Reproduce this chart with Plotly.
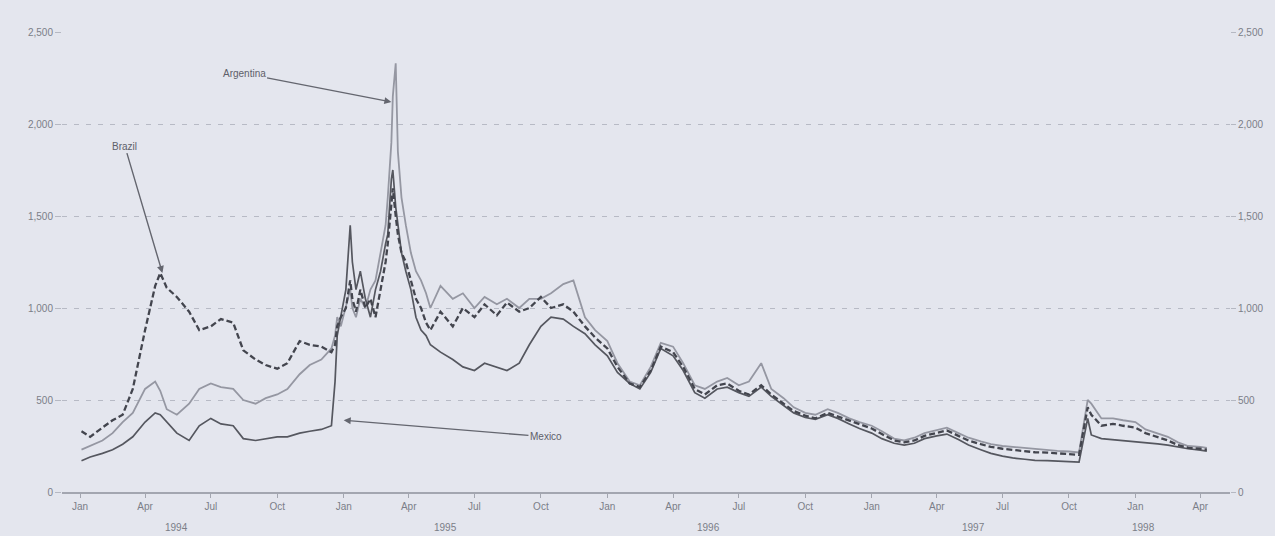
import plotly.graph_objects as go

# Observation dates (semi-monthly, weekly around the Tequila crisis)
dates = [
    "1994-01-03", "1994-01-15", "1994-02-01", "1994-02-15", "1994-03-01", "1994-03-15",
    "1994-04-01", "1994-04-15", "1994-04-22", "1994-05-01", "1994-05-15", "1994-06-01",
    "1994-06-15", "1994-07-01", "1994-07-15", "1994-08-01", "1994-08-15", "1994-09-01",
    "1994-09-15", "1994-10-01", "1994-10-15", "1994-11-01", "1994-11-15", "1994-12-01",
    "1994-12-15", "1994-12-20", "1994-12-23", "1994-12-28",
    "1995-01-04", "1995-01-10", "1995-01-13", "1995-01-18", "1995-01-24", "1995-01-31",
    "1995-02-07", "1995-02-14", "1995-02-21", "1995-02-28", "1995-03-03", "1995-03-08",
    "1995-03-10", "1995-03-14", "1995-03-17", "1995-03-22", "1995-03-28", "1995-04-04",
    "1995-04-11", "1995-04-18", "1995-04-25", "1995-05-01", "1995-05-15", "1995-06-01",
    "1995-06-15", "1995-07-01", "1995-07-15", "1995-08-01", "1995-08-15", "1995-09-01",
    "1995-09-15", "1995-10-01", "1995-10-15", "1995-11-01", "1995-11-15", "1995-12-01",
    "1995-12-15",
    "1996-01-01", "1996-01-15", "1996-02-01", "1996-02-15", "1996-03-01", "1996-03-15",
    "1996-04-01", "1996-04-15", "1996-05-01", "1996-05-15", "1996-06-01", "1996-06-15",
    "1996-07-01", "1996-07-15", "1996-08-01", "1996-08-15", "1996-09-01", "1996-09-15",
    "1996-10-01", "1996-10-15", "1996-11-01", "1996-11-15", "1996-12-01", "1996-12-15",
    "1997-01-01", "1997-01-15", "1997-02-01", "1997-02-15", "1997-03-01", "1997-03-15",
    "1997-04-01", "1997-04-15", "1997-05-01", "1997-05-15", "1997-06-01", "1997-06-15",
    "1997-07-01", "1997-07-15", "1997-08-01", "1997-08-15", "1997-09-01", "1997-09-15",
    "1997-10-01", "1997-10-15", "1997-10-27", "1997-11-01", "1997-11-15", "1997-12-01",
    "1997-12-15",
    "1998-01-01", "1998-01-15", "1998-02-01", "1998-02-15", "1998-03-01", "1998-03-15",
    "1998-04-01", "1998-04-10",
]

# Sovereign spreads, basis points
brazil = [
    330, 300, 350, 390, 420, 560,
    880, 1120, 1190, 1110, 1060, 980,
    880, 900, 940, 920, 770, 720,
    690, 670, 700, 820, 800, 790,
    760, 800, 900, 950,
    1000, 1150, 1050, 980, 1100, 1000,
    1050, 950, 1100, 1250, 1350, 1550,
    1650, 1500, 1400, 1300, 1250, 1150,
    1050, 1000, 920, 880, 980, 900,
    1000, 950, 1020, 960, 1030, 980,
    1000, 1060, 1000, 1020, 980, 900,
    840,
    780, 680, 590, 570, 660, 790,
    760, 680, 560, 530, 580, 590,
    550, 530, 580, 530, 480, 440,
    415, 400, 430, 410, 385, 365,
    345, 315, 280, 270, 280, 305,
    320, 335, 305, 280, 260, 245,
    235, 230, 222, 216, 214, 210,
    208, 202, 460, 420, 360, 370,
    360,
    350, 320, 300, 280, 255, 240,
    235, 230,
]

argentina = [
    230, 250, 280, 320, 380, 430,
    560, 600, 550, 450, 420, 480,
    560, 590, 570, 560, 500, 480,
    510, 530, 560, 640, 690, 720,
    780, 850, 950, 900,
    1000, 1100, 1000, 950, 1050, 1000,
    1100, 1150, 1300, 1450, 1600, 1900,
    2150, 2330, 1850, 1600, 1450, 1300,
    1200, 1150, 1080, 1000, 1120, 1050,
    1080, 1000, 1060, 1020, 1050, 1000,
    1050, 1050, 1080, 1130, 1150, 950,
    880,
    820, 700, 600, 580, 680, 810,
    790, 700, 580, 560, 600, 620,
    580, 600, 700, 560, 510, 460,
    430, 420, 450, 430, 400, 380,
    360, 330, 290, 280, 295, 320,
    335, 350, 320, 295, 275, 260,
    250, 245, 238, 232, 228, 224,
    220, 215, 500, 480, 400, 400,
    390,
    380, 340, 320, 300, 270, 250,
    245, 240,
]

mexico = [
    170, 190, 210, 230, 260, 300,
    380, 430, 420, 380, 320, 280,
    360, 400, 370, 360, 290, 280,
    290, 300, 300, 320, 330, 340,
    360, 600, 850, 950,
    1100, 1450, 1250, 1100, 1200, 1050,
    950, 1100, 1200, 1350, 1400, 1700,
    1750, 1550, 1450, 1300, 1200, 1100,
    950, 880, 850, 800, 760, 720,
    680, 660, 700, 680, 660, 700,
    800, 900, 950, 940, 900, 860,
    800,
    740, 650, 590, 560, 650, 780,
    740, 660, 540, 510, 560, 570,
    540, 520, 570, 520, 470, 430,
    405, 395, 420, 400, 370, 345,
    320, 290, 265, 255, 265, 290,
    305, 315, 285, 255, 230, 210,
    195, 185, 178, 172, 170, 168,
    165, 162, 400, 310, 290, 285,
    280,
    275, 268, 262, 255, 245, 235,
    228, 222,
]

# Axis labelling
quarter_ticks = [
    "1994-01-01", "1994-04-01", "1994-07-01", "1994-10-01",
    "1995-01-01", "1995-04-01", "1995-07-01", "1995-10-01",
    "1996-01-01", "1996-04-01", "1996-07-01", "1996-10-01",
    "1997-01-01", "1997-04-01", "1997-07-01", "1997-10-01",
    "1998-01-01", "1998-04-01",
]
quarter_labels = ["Jan", "Apr", "Jul", "Oct"] * 4 + ["Jan", "Apr"]
year_labels = ["1994", "1995", "1996", "1997", "1998"]
year_positions = ["1994-05-15", "1995-05-22", "1996-05-20", "1997-05-22", "1998-01-12"]
y_ticks = [0, 500, 1000, 1500, 2000, 2500]

BG = "#e4e6ee"
TICK_FONT = dict(family="Liberation Sans, Arial, sans-serif", size=10, color="#7b7e88")

fig = go.Figure()
fig.add_trace(go.Scatter(x=dates, y=argentina, mode="lines", name="Argentina",
                         line=dict(color="#9597a2", width=1.8)))
fig.add_trace(go.Scatter(x=dates, y=mexico, mode="lines", name="Mexico",
                         line=dict(color="#55575f", width=1.7)))
fig.add_trace(go.Scatter(x=dates, y=brazil, mode="lines", name="Brazil",
                         line=dict(color="#43454e", width=2.3, dash="6px,3px")))
# carries the right-hand scale
fig.add_trace(go.Scatter(x=[dates[0]], y=[None], yaxis="y2", mode="lines",
                         showlegend=False, hoverinfo="skip"))

fig.update_layout(
    width=1275, height=536,
    margin=dict(l=62, r=40, t=32, b=44),
    paper_bgcolor=BG, plot_bgcolor=BG,
    showlegend=False,
    xaxis=dict(
        type="date", range=["1993-12-07", "1998-05-12"],
        tickvals=quarter_ticks, ticktext=quarter_labels,
        tickfont=TICK_FONT, ticks="outside", ticklen=4, tickcolor="#a3a6b0",
        showgrid=False, showline=True, linecolor="#a3a6b0", linewidth=1.5,
        zeroline=False,
    ),
    yaxis=dict(
        range=[0, 2500], tickvals=y_ticks, tickformat=",",
        tickfont=TICK_FONT, ticks="outside", ticklen=6, tickcolor="#b5b8c2",
        showgrid=True, gridcolor="#b7bac5", griddash="5px,7px", gridwidth=1.3,
        zeroline=False, showline=False,
    ),
    yaxis2=dict(
        range=[0, 2500], tickvals=y_ticks, tickformat=",", overlaying="y",
        side="right", tickfont=TICK_FONT, ticks="outside", ticklen=5,
        tickcolor="#b5b8c2", showgrid=False, zeroline=False, showline=False,
    ),
)

for label, pos in zip(year_labels, year_positions):
    fig.add_annotation(x=pos, y=0, xref="x", yref="paper", text=label,
                       showarrow=False, yshift=-43, font=TICK_FONT)

LABEL_FONT = dict(family="Liberation Sans, Arial, sans-serif", size=10, color="#5e6069")
arrow_style = dict(showarrow=True, arrowhead=2, arrowsize=1, arrowwidth=1.4,
                   arrowcolor="#64666f", xref="x", yref="y", axref="x", ayref="y",
                   font=LABEL_FONT)
fig.add_annotation(x="1994-04-25", y=1190, ax="1994-03-04", ay=1880,
                   text="Brazil", **arrow_style)
fig.add_annotation(x="1995-03-08", y=2120, ax="1994-08-16", ay=2275,
                   text="Argentina", **arrow_style)
fig.add_annotation(x="1995-01-01", y=390, ax="1995-10-08", ay=300,
                   text="Mexico", **arrow_style)

fig.write_html("out.html")
